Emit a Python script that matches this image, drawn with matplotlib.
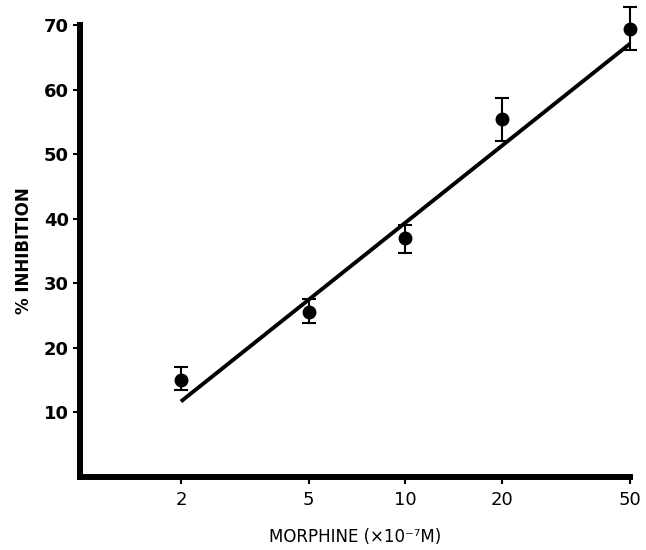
import matplotlib
matplotlib.use("Agg")
import matplotlib.pyplot as plt
import numpy as np

# Data
morphine = [2, 5, 10, 20, 50]
inhibition = [15.0, 25.6, 37.0, 55.5, 69.4]
err_low = [1.5, 1.8, 2.3, 3.4, 3.3]
err_high = [2.0, 2.0, 2.1, 3.2, 3.4]
fit_x = [2, 50]
fit_y = [11.7, 67.1]
xticks = [2, 5, 10, 20, 50]
xticklabels = ["2", "5", "10", "20", "50"]
yticks = [10, 20, 30, 40, 50, 60, 70]
yticklabels = ["10", "20", "30", "40", "50", "60", "70"]

fig = plt.figure(figsize=(6.46, 5.5), dpi=100)
ax = fig.add_axes([80/646, 1 - 477/550, (630-80)/646, (477-25)/550])

ax.plot(fit_x, fit_y, color="black", lw=2.8, solid_capstyle="butt", zorder=2)
ax.errorbar(morphine, inhibition, yerr=[err_low, err_high], fmt="o", color="black",
            ms=9, elinewidth=1.5, capsize=5, capthick=1.5, clip_on=False, zorder=3)

ax.set_xscale("log")
ax.set_xlim(0.97, 50)
ax.set_ylim(0, 70)
ax.set_xticks(xticks)
ax.set_xticklabels(xticklabels)
ax.minorticks_off()
ax.set_yticks(yticks)
ax.set_yticklabels(yticklabels, fontweight="bold")

for s in ["top", "right"]:
    ax.spines[s].set_visible(False)
for s in ["left", "bottom"]:
    ax.spines[s].set_linewidth(4.3)
    ax.spines[s].set_capstyle("projecting")

ax.tick_params(axis="both", direction="out", length=5, width=1.5, labelsize=13, colors="black")
ax.tick_params(axis="y", pad=3)
ax.tick_params(axis="x", pad=5)

ax.set_ylabel("% INHIBITION", fontsize=12, fontweight="bold", labelpad=8)
ax.set_xlabel("MORPHINE (×10⁻⁷M)", fontsize=12, labelpad=14)

fig.savefig("out.png", dpi=100)
